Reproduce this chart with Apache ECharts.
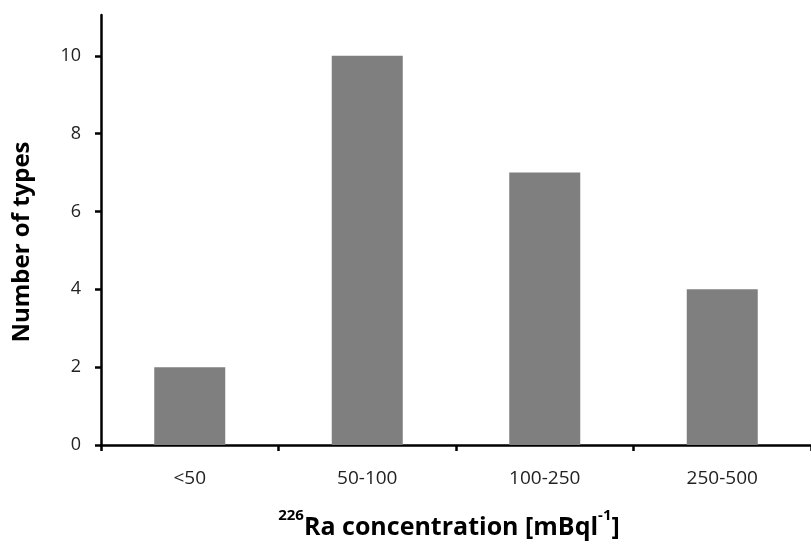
<!DOCTYPE html>
<html>
<head>
<meta charset="utf-8">
<script src="https://cdn.jsdelivr.net/npm/echarts@6/dist/echarts.min.js"></script>
<style>
  html, body { margin: 0; padding: 0; background: #fff; }
  #chart { width: 811px; height: 548px; }
</style>
</head>
<body>
<div id="chart"></div>
<script>
const categories = ["<50", "50-100", "100-250", "250-500"];
const counts = [2, 10, 7, 4];
const yTicks = [0, 2, 4, 6, 8, 10];

const font = "'Open Sans', 'Noto Sans', sans-serif";
const chart = echarts.init(document.getElementById("chart"));

chart.setOption({
  animation: false,
  grid: { left: 101, right: -6, top: 15, bottom: 103 },
  xAxis: {
    type: "category",
    data: categories,
    axisLine: { lineStyle: { color: "#000", width: 2.5 } },
    axisTick: { show: true, length: 6, lineStyle: { color: "#000", width: 2.5 } },
    axisLabel: { color: "#222", fontFamily: font, fontSize: 19, margin: 24 }
  },
  yAxis: {
    type: "value",
    min: 0,
    max: 11.05,
    splitLine: { show: false },
    axisLine: { show: true, lineStyle: { color: "#000", width: 2.5 } },
    axisTick: { show: true, length: 6, customValues: yTicks, lineStyle: { color: "#000", width: 2.5 } },
    axisLabel: { color: "#222", fontFamily: font, fontSize: 18, margin: 20, customValues: yTicks }
  },
  series: [{
    type: "bar",
    data: counts,
    barWidth: "40%",
    itemStyle: { color: "#7f7f7f" }
  }],
  graphic: [
    {
      type: "text",
      x: 22, y: 242,
      rotation: Math.PI / 2,
      style: {
        text: "Number of types",
        font: "bold 24px " + font,
        fill: "#000",
        align: "center",
        verticalAlign: "middle"
      }
    },
    {
      type: "text",
      x: 449, y: 524,
      style: {
        text: "{sup|226}{main|Ra concentration [mBql}{sup|-1}{main|]}",
        align: "center",
        verticalAlign: "middle",
        fill: "#000",
        rich: {
          main: { font: "bold 25px " + font, fill: "#000", lineHeight: 32, verticalAlign: "bottom" },
          sup: { font: "bold 15px " + font, fill: "#000", lineHeight: 32, verticalAlign: "top" }
        }
      }
    }
  ]
});
</script>
</body>
</html>
